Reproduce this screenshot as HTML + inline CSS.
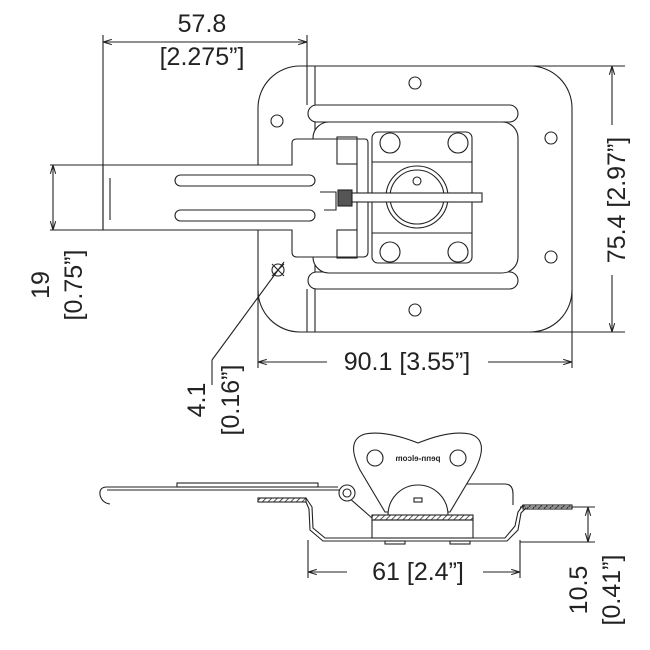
<!DOCTYPE html>
<html><head><style>body{margin:0;background:#fff}svg{display:block}text{font-family:"Liberation Sans",sans-serif;fill:#222}</style></head>
<body>
<svg width="650" height="650" viewBox="0 0 650 650" xmlns="http://www.w3.org/2000/svg">
<defs>
<marker id="a" viewBox="0 0 10 10" refX="10" refY="5" markerWidth="8" markerHeight="8" orient="auto-start-reverse"><path d="M0,2 L10,5 L0,8" fill="none" stroke="#222" stroke-width="1.2"/></marker>
<pattern id="h" width="4" height="4" patternUnits="userSpaceOnUse" patternTransform="rotate(45)"><rect width="4" height="4" fill="#fff"/><line x1="0" y1="0" x2="0" y2="4" stroke="#222" stroke-width="1.5"/></pattern>
</defs>
<g fill="none" stroke="#222" stroke-width="1.1">
<rect x="258" y="66" width="314" height="266" rx="42"/>
<line x1="315" y1="66" x2="315" y2="332"/>
<rect x="308" y="105" width="210" height="17" rx="8.5" fill="#fff"/>
<rect x="308" y="272" width="210" height="17" rx="8.5" fill="#fff"/>
<rect x="313" y="122" width="205" height="151" rx="16" fill="#fff"/>
<rect x="372" y="132" width="100" height="131" rx="6"/>
<line x1="372" y1="162" x2="472" y2="162"/><line x1="372" y1="233" x2="472" y2="233"/>
<circle cx="390" cy="143" r="10"/><circle cx="458" cy="143" r="10"/>
<circle cx="390" cy="252" r="10"/><circle cx="458" cy="252" r="10"/>
<circle cx="417" cy="197" r="31"/><circle cx="417" cy="197" r="27"/><circle cx="417" cy="181" r="4"/>
<circle cx="415" cy="83" r="6"/><circle cx="277" cy="121" r="6"/><circle cx="551" cy="138" r="6"/><circle cx="551" cy="257" r="6"/><circle cx="415" cy="310" r="6"/>
<circle cx="278" cy="270" r="6"/><line x1="272" y1="276" x2="284" y2="264"/><line x1="272" y1="264" x2="284" y2="276"/>
<path d="M103,165 H292 V143 Q292,139 297,139 H365 Q368,139 368,143 V252 Q368,257 363,257 H297 Q292,257 292,252 V230 H103 Z" fill="#fff"/>
<line x1="110" y1="178" x2="110" y2="220"/>
<rect x="175" y="175" width="140" height="11" rx="5.5"/><rect x="175" y="210" width="140" height="11" rx="5.5"/>
<rect x="337" y="137" width="20" height="27"/><rect x="337" y="230" width="20" height="28"/>
<path d="M357,164 V230 M320,192 H336 V210 H324"/>
<rect x="338" y="190" width="14" height="16" fill="#555"/>
<rect x="352" y="193" width="130" height="9" fill="#fff"/>
<line x1="103" y1="35" x2="103" y2="230"/><line x1="307" y1="35" x2="307" y2="105"/><line x1="307" y1="289" x2="307" y2="332"/>
<line x1="103" y1="42" x2="307" y2="42" marker-start="url(#a)" marker-end="url(#a)"/>
<line x1="50" y1="165" x2="103" y2="165"/><line x1="50" y1="230" x2="103" y2="230"/>
<line x1="53" y1="165" x2="53" y2="230" marker-start="url(#a)" marker-end="url(#a)"/>
<line x1="530" y1="66" x2="625" y2="66"/><line x1="530" y1="332" x2="625" y2="332"/>
<line x1="612" y1="66" x2="612" y2="125" marker-start="url(#a)"/><line x1="612" y1="275" x2="612" y2="332" marker-end="url(#a)"/>
<line x1="258" y1="290" x2="258" y2="368"/><line x1="572" y1="290" x2="572" y2="368"/>
<line x1="258" y1="362" x2="327" y2="362" marker-start="url(#a)"/><line x1="488" y1="362" x2="572" y2="362" marker-end="url(#a)"/>
<line x1="284" y1="262" x2="212" y2="360"/><line x1="212" y1="360" x2="212" y2="385"/>
<path d="M107,487 H338 M107,490 H340"/><path d="M107,487 Q99,487 100,495 Q102,503 110,504"/>
<rect x="177" y="483" width="141" height="4"/>
<path d="M340,490 L372,518"/>
<circle cx="347" cy="493" r="8" fill="#fff"/><circle cx="347" cy="493" r="4"/>
<path d="M455,484 H505 Q513,484 513,494 V505"/>
<path d="M360,470 Q345,440 365,434 Q385,430 418,443 Q450,430 470,434 Q490,440 475,470 L450,512 H385 Z" fill="#fff"/>
<circle cx="375" cy="458" r="8"/><circle cx="458" cy="458" r="8"/>
<path d="M388,515 A30,30 0 0 1 448,515" fill="#fff"/>
<rect x="414" y="498" width="8" height="4"/>
<rect x="258" y="498" width="48" height="4" fill="url(#h)"/>
<rect x="523" y="505" width="49" height="4" fill="url(#h)"/>
<path d="M306,498 L312,507 L313,528 L325,538 H505 L515,526 L518,512 L523,505"/>
<path d="M306,502 L309,509 L310,530 L323,541 H507 L518,530 L521,513 L526,508"/>
<rect x="372" y="515" width="101" height="5" fill="url(#h)"/>
<rect x="372" y="520" width="101" height="18"/>
<rect x="385" y="541" width="20" height="3"/><rect x="450" y="541" width="20" height="3"/>
<line x1="308" y1="540" x2="308" y2="578"/><line x1="520" y1="540" x2="520" y2="578"/>
<line x1="308" y1="572" x2="347" y2="572" marker-start="url(#a)"/><line x1="483" y1="572" x2="520" y2="572" marker-end="url(#a)"/>
<line x1="520" y1="507" x2="595" y2="507"/><line x1="520" y1="542" x2="595" y2="542"/>
<line x1="588" y1="507" x2="588" y2="542" marker-start="url(#a)" marker-end="url(#a)"/>
</g>
<text x="418" y="461" font-size="8" font-weight="bold" text-anchor="middle" transform="translate(836,0) scale(-1,1)">penn-elcom</text>
<text x="202" y="32" font-size="25" text-anchor="middle">57.8</text>
<text x="202" y="65" font-size="25" text-anchor="middle">[2.275”]</text>
<text x="407" y="370" font-size="25" text-anchor="middle">90.1 [3.55”]</text>
<text x="418" y="580" font-size="25" text-anchor="middle">61 [2.4”]</text>
<text transform="translate(625,200) rotate(-90)" font-size="25" text-anchor="middle">75.4 [2.97”]</text>
<text transform="translate(49,285) rotate(-90)" font-size="25" text-anchor="middle">19</text>
<text transform="translate(82,285) rotate(-90)" font-size="25" text-anchor="middle">[0.75”]</text>
<text transform="translate(205,400) rotate(-90)" font-size="25" text-anchor="middle">4.1</text>
<text transform="translate(239,400) rotate(-90)" font-size="25" text-anchor="middle">[0.16”]</text>
<text transform="translate(587,590) rotate(-90)" font-size="25" text-anchor="middle">10.5</text>
<text transform="translate(620,590) rotate(-90)" font-size="25" text-anchor="middle">[0.41”]</text>
</svg>
</body></html>
